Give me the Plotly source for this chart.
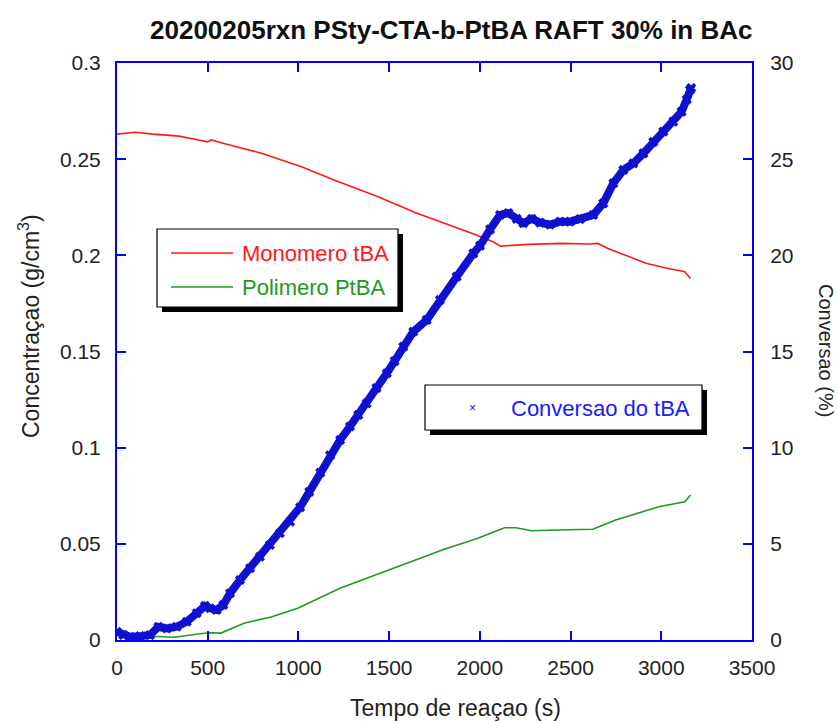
import plotly.graph_objects as go

# ---------------- data ----------------
time_conv = [0, 35, 72, 127, 182, 228, 274, 329, 384, 439, 485, 513, 549, 586, 623,
             678, 733, 788, 843, 898, 954, 1009, 1060, 1120, 1174, 1230, 1284, 1330,
             1376, 1430, 1487, 1530, 1578, 1633, 1707, 1780, 1872, 1964, 2001, 2056,
             2111, 2157, 2203, 2240, 2286, 2332, 2387, 2442, 2497, 2552, 2625, 2680,
             2736, 2791, 2846, 2901, 2956, 3011, 3066, 3112, 3140, 3158, 3165]
conv = [0.43, 0.26, 0.17, 0.2, 0.26, 0.69, 0.6, 0.69, 0.95, 1.39, 1.77, 1.65, 1.56, 1.82,
        2.43, 3.12, 3.73, 4.33, 4.94, 5.55, 6.15, 6.9, 7.7, 8.7, 9.6, 10.4, 11.1, 11.7,
        12.3, 13.1, 13.87, 14.5, 15.25, 16.03, 16.64, 17.68, 18.89, 20.1, 20.5, 21.35,
        22.1, 22.2, 21.9, 21.67, 21.9, 21.7, 21.6, 21.75, 21.75, 21.88, 22.1, 22.7,
        23.75, 24.44, 24.78, 25.3, 25.9, 26.43, 26.95, 27.47, 28.1, 28.6, 28.7]

time_mono = [0, 100, 200, 342, 450, 500, 520, 595, 800, 1017, 1200, 1439, 1650, 1862,
             1970, 2072, 2115, 2270, 2450, 2602, 2650, 2706, 2800, 2916, 3020, 3129, 3161]
mono = [0.263, 0.264, 0.263, 0.262, 0.260, 0.259, 0.260, 0.258, 0.253, 0.246, 0.239,
        0.2305, 0.222, 0.2149, 0.211, 0.2071, 0.2048, 0.2057, 0.2062, 0.2059, 0.2062,
        0.2036, 0.200, 0.1959, 0.1935, 0.1915, 0.188]

time_poly = [0, 190, 320, 446, 510, 573, 700, 850, 996, 1229, 1497, 1651, 1800, 1989,
             2136, 2200, 2284, 2489, 2622, 2749, 2870, 2987, 3129, 3161]
poly = [0.0026, 0.002, 0.0014, 0.0031, 0.0038, 0.0036, 0.0087, 0.012, 0.0165, 0.0269,
        0.0364, 0.0421, 0.047, 0.0529, 0.0584, 0.0584, 0.0568, 0.0573, 0.0576, 0.0624,
        0.066, 0.0693, 0.0719, 0.0754]

x_ticks = [0, 500, 1000, 1500, 2000, 2500, 3000, 3500]
y_ticks = [0, 0.05, 0.1, 0.15, 0.2, 0.25, 0.3]
y_ticktext = ["0", "0.05", "0.1", "0.15", "0.2", "0.25", "0.3"]
y2_ticks = [0, 5, 10, 15, 20, 25, 30]

title_text = "20200205rxn PSty-CTA-b-PtBA RAFT 30% in BAc"
x_title = "Tempo de reaçao (s)"
y_title = "Concentraçao (g/cm<sup>3</sup>)"
y2_title = "Conversao (%)"
name_mono = "Monomero tBA"
name_poly = "Polimero PtBA"
name_conv = "Conversao do tBA"

# ---------------- style ----------------
RED = "#ff1a1a"
GREEN = "#1f9a1f"
BLUE = "#1010d2"
AXIS = "#0000ff"
FONT = "Liberation Sans, Arial, sans-serif"
W, H = 837, 722
L, R, T, B = 117, 85, 63, 82
PW, PH = W - L - R, H - T - B


def px(x):
    return (x - L) / PW


def py(y):
    return (H - B - y) / PH


fig = go.Figure()
fig.add_trace(go.Scatter(x=time_mono, y=mono, mode="lines",
                         line=dict(color=RED, width=1.6), showlegend=False))
fig.add_trace(go.Scatter(x=time_poly, y=poly, mode="lines",
                         line=dict(color=GREEN, width=1.6), showlegend=False))
fig.add_trace(go.Scatter(x=time_conv, y=conv, mode="lines+markers", yaxis="y2",
                         line=dict(color=BLUE, width=8),
                         marker=dict(symbol="x", size=9, color=BLUE),
                         showlegend=False))

tickfont = dict(family=FONT, size=21, color="#222222")
fig.update_layout(
    width=W, height=H, autosize=False,
    margin=dict(l=L, r=R, t=T, b=B),
    paper_bgcolor="white", plot_bgcolor="white",
    font=dict(family=FONT),
    xaxis=dict(range=[0, 3500], tickvals=x_ticks, ticks="inside", ticklen=9,
               tickwidth=2, tickcolor=AXIS, showline=True, linecolor=AXIS,
               linewidth=2, mirror="ticks", showgrid=False, zeroline=False,
               tickfont=tickfont, ticklabelstandoff=8),
    yaxis=dict(range=[0, 0.3], tickvals=y_ticks, ticktext=y_ticktext,
               ticks="inside", ticklen=9, tickwidth=2, tickcolor=AXIS,
               showline=True, linecolor=AXIS, linewidth=2, mirror=True,
               showgrid=False, zeroline=False, tickfont=tickfont,
               ticklabelstandoff=10),
    yaxis2=dict(range=[0, 30], tickvals=y2_ticks, overlaying="y", side="right",
                ticks="inside", ticklen=9, tickwidth=2, tickcolor=AXIS,
                showline=True, linecolor=AXIS, linewidth=2, showgrid=False,
                zeroline=False, tickfont=tickfont, ticklabelstandoff=12),
)

ann = []
ann.append(dict(text="<b>" + title_text + "</b>", x=px(451), y=py(30), xref="paper",
                yref="paper", showarrow=False, xanchor="center", yanchor="middle",
                font=dict(family=FONT, size=26, color="#111111")))
ann.append(dict(text=x_title, x=px(455), y=py(708), xref="paper", yref="paper",
                showarrow=False, xanchor="center", yanchor="middle",
                font=dict(family=FONT, size=23, color="#222222")))
ann.append(dict(text=y_title, x=px(29), y=py(326), xref="paper", yref="paper",
                showarrow=False, xanchor="center", yanchor="middle", textangle=-90,
                font=dict(family=FONT, size=23, color="#222222")))
ann.append(dict(text=y2_title, x=px(826), y=py(350), xref="paper", yref="paper",
                showarrow=False, xanchor="center", yanchor="middle", textangle=90,
                font=dict(family=FONT, size=20, color="#222222")))

shapes = []


def box(x0, y0, x1, y1):
    # drop shadow
    shapes.append(dict(type="rect", xref="paper", yref="paper",
                       x0=px(x0 + 5), x1=px(x1 + 5), y0=py(y1 + 5), y1=py(y0 + 5),
                       fillcolor="black", line=dict(width=0), layer="above"))
    shapes.append(dict(type="rect", xref="paper", yref="paper",
                       x0=px(x0), x1=px(x1), y0=py(y1), y1=py(y0),
                       fillcolor="white", line=dict(color="black", width=1.2),
                       layer="above"))


box(157, 229, 398, 307)
shapes.append(dict(type="line", xref="paper", yref="paper", x0=px(171), x1=px(233),
                   y0=py(253), y1=py(253), line=dict(color=RED, width=1.6), layer="above"))
shapes.append(dict(type="line", xref="paper", yref="paper", x0=px(171), x1=px(233),
                   y0=py(287), y1=py(287), line=dict(color=GREEN, width=1.6), layer="above"))
ann.append(dict(text=name_mono, x=px(240), y=py(253), xref="paper", yref="paper",
                showarrow=False, xanchor="left", yanchor="middle",
                font=dict(family=FONT, size=22, color=RED)))
ann.append(dict(text=name_poly, x=px(240), y=py(287), xref="paper", yref="paper",
                showarrow=False, xanchor="left", yanchor="middle",
                font=dict(family=FONT, size=22, color=GREEN)))

box(425, 385, 702, 430)
ann.append(dict(text="×", x=px(472), y=py(408), xref="paper", yref="paper",
                showarrow=False, xanchor="center", yanchor="middle",
                font=dict(family=FONT, size=12, color=BLUE)))
ann.append(dict(text=name_conv, x=px(509), y=py(408), xref="paper", yref="paper",
                showarrow=False, xanchor="left", yanchor="middle",
                font=dict(family=FONT, size=22, color="#1a1aff")))

fig.update_layout(annotations=ann, shapes=shapes)
fig.write_html("out.html")
